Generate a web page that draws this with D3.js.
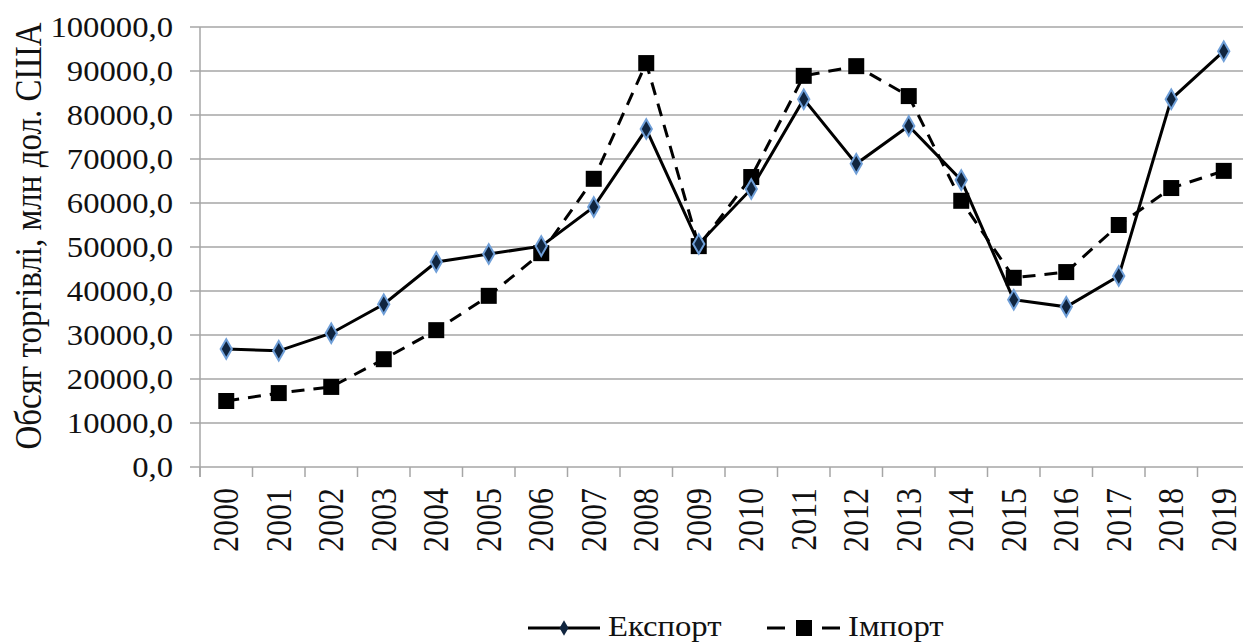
<!doctype html>
<html>
<head>
<meta charset="utf-8">
<script src="https://d3js.org/d3.v7.min.js"></script>
<style>
  body {margin: 0; background: #fff;}
</style>
</head>
<body>
<svg width="1243" height="643"></svg>
<script>
var years = [2000, 2001, 2002, 2003, 2004, 2005, 2006, 2007, 2008, 2009,
             2010, 2011, 2012, 2013, 2014, 2015, 2016, 2017, 2018, 2019];
var exportVals = [26800, 26400, 30400, 37000, 46600, 48400, 50200, 59100, 76800, 50700,
                  63200, 83600, 68900, 77500, 65200, 38000, 36400, 43400, 83600, 94500];
var importVals = [15000, 16800, 18200, 24500, 31100, 38900, 48600, 65500, 91800, 50200,
                  65900, 88900, 91100, 84300, 60500, 43000, 44300, 55000, 63400, 67300];
var yTicks = [0, 10000, 20000, 30000, 40000, 50000, 60000, 70000, 80000, 90000, 100000];
var seriesNames = ["Експорт", "Імпорт"];
var yTitle = "Обсяг торгівлі, млн дол. США";

var serif = "'Liberation Serif', serif";
var svg = d3.select("svg");
var x = d3.scaleBand().domain(years).range([200, 1250]);
var y = d3.scaleLinear().domain([0, 100000]).range([467, 27]);
var fmt = function(d) { return d3.format(".1f")(d).replace(".", ","); };

// gridlines
svg.append("g").selectAll("line").data(yTicks).enter().append("line")
    .attr("x1", 190).attr("x2", 1243)
    .attr("y1", function(d) { return y(d); }).attr("y2", function(d) { return y(d); })
    .attr("stroke", "#a6a6a6").attr("stroke-width", 1.5);

// y axis line
svg.append("line").attr("x1", 200).attr("x2", 200).attr("y1", y(100000)).attr("y2", y(0) + 10)
    .attr("stroke", "#a6a6a6").attr("stroke-width", 1.5);

// x tick marks at band edges
var edges = years.map(function(d) { return x(d); }).concat([x.range()[1]]);
svg.append("g").selectAll("line").data(edges).enter().append("line")
    .attr("x1", function(d) { return d; }).attr("x2", function(d) { return d; })
    .attr("y1", y(0)).attr("y2", y(0) + 10)
    .attr("stroke", "#a6a6a6").attr("stroke-width", 1.5);

// y tick labels
svg.append("g").selectAll("text").data(yTicks).enter().append("text")
    .attr("transform", function(d) { return "translate(173," + (y(d) + 10) + ") scale(1.09,1)"; })
    .attr("text-anchor", "end")
    .style("font-family", serif).style("fill", "#111")
    .style("font-size", "30px")
    .text(fmt);

// x tick labels
svg.append("g").selectAll("text").data(years).enter().append("text")
    .attr("transform", function(d) {
        return "translate(" + (x(d) + x.bandwidth() / 2 + 12) + "," + 488 + ") rotate(-90) scale(1,1.12)";
    })
    .attr("text-anchor", "end")
    .style("font-family", serif).style("fill", "#111")
    .style("font-size", "32px")
    .text(function(d) { return d; });

// y title
svg.append("text")
    .attr("transform", "translate(41,236) rotate(-90) scale(1,1.12)")
    .attr("text-anchor", "middle")
    .style("font-family", serif).style("fill", "#111")
    .style("font-size", "33px")
    .text(yTitle);

// lines
var lineGen = d3.line()
    .x(function(d, i) { return x(years[i]) + x.bandwidth() / 2; })
    .y(function(d) { return y(d); });

svg.append("path").datum(importVals).attr("d", lineGen)
    .attr("fill", "none").attr("stroke", "#000").attr("stroke-width", 3)
    .attr("stroke-dasharray", "13,9");
svg.append("path").datum(exportVals).attr("d", lineGen)
    .attr("fill", "none").attr("stroke", "#000").attr("stroke-width", 3);

// import markers
svg.append("g").selectAll("rect").data(importVals).enter().append("rect")
    .attr("x", function(d, i) { return x(years[i]) + x.bandwidth() / 2 - 8; })
    .attr("y", function(d) { return y(d) - 8; })
    .attr("width", 16).attr("height", 16)
    .attr("fill", "#000");

// export markers
var diamond = d3.symbol().type(d3.symbolDiamond).size(110);
svg.append("g").selectAll("path").data(exportVals).enter().append("path")
    .attr("d", diamond)
    .attr("transform", function(d, i) {
        return "translate(" + (x(years[i]) + x.bandwidth() / 2) + "," + y(d) + ")";
    })
    .attr("fill", "#10253f").attr("stroke", "#6f9fd8").attr("stroke-width", 2);

// legend
var lg = svg.append("g");
lg.append("line").attr("x1", 528).attr("x2", 600).attr("y1", 628).attr("y2", 628)
    .attr("stroke", "#000").attr("stroke-width", 3);
lg.append("path").attr("d", d3.symbol().type(d3.symbolDiamond).size(70))
    .attr("transform", "translate(564,628)").attr("fill", "#10253f");
lg.append("text").attr("transform", "translate(608,636) scale(1.09,1)")
    .style("font-family", serif).style("fill", "#111")
    .style("font-size", "30px").text(seriesNames[0]);

lg.append("line").attr("x1", 767).attr("x2", 840).attr("y1", 628).attr("y2", 628)
    .attr("stroke", "#000").attr("stroke-width", 3).attr("stroke-dasharray", "18,37,18");
lg.append("rect").attr("x", 796).attr("y", 620).attr("width", 16).attr("height", 16).attr("fill", "#000");
lg.append("text").attr("transform", "translate(848,636) scale(1.09,1)")
    .style("font-family", serif).style("fill", "#111")
    .style("font-size", "30px").text(seriesNames[1]);
</script>
</body>
</html>
